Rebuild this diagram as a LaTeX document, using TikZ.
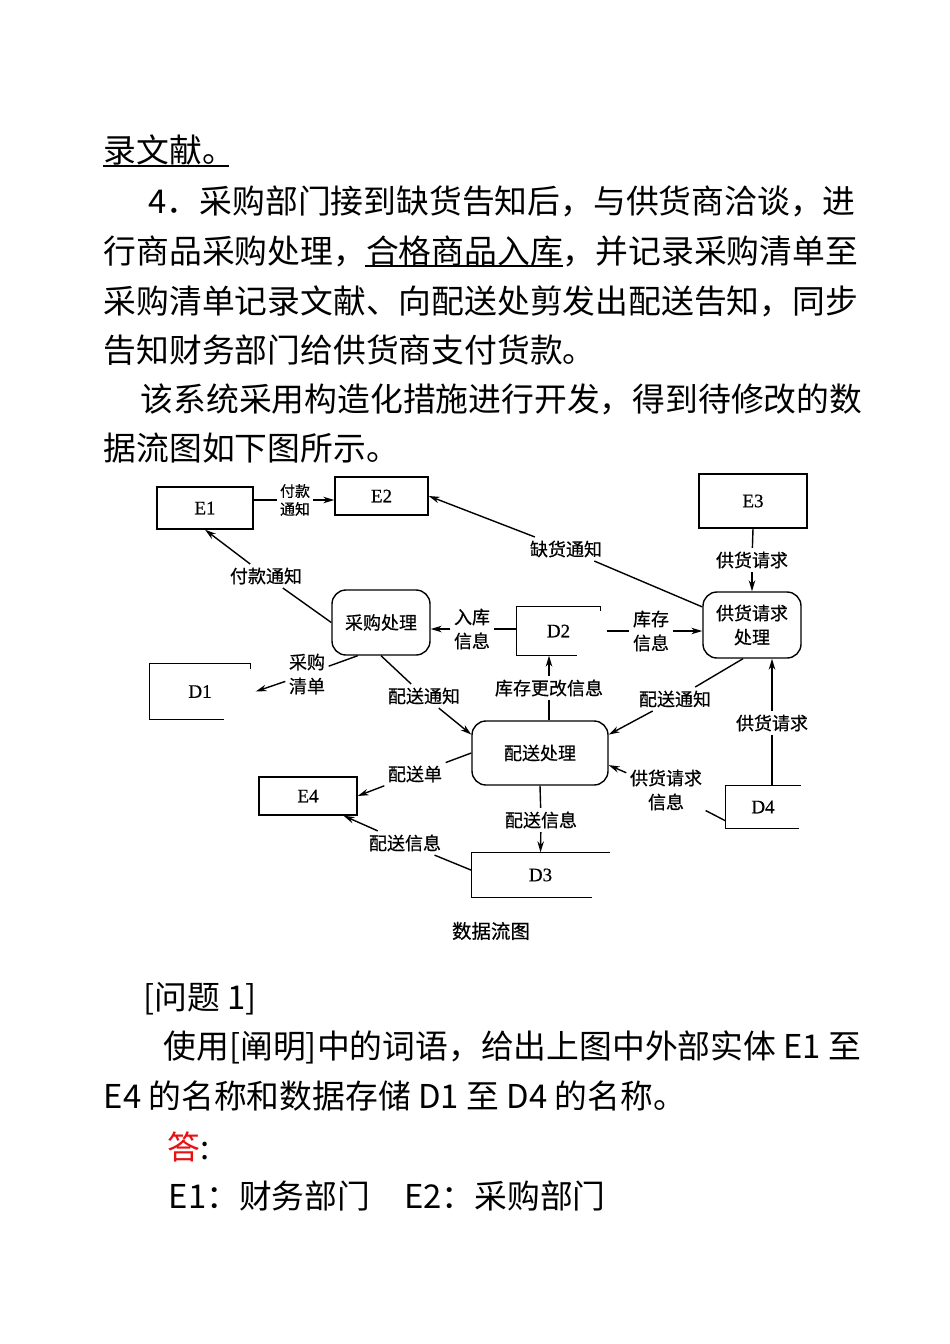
\documentclass[tikz,border=0pt]{standalone}
\usepackage{fontspec}
\setmainfont{Noto Sans CJK SC}
\newfontfamily\dfdserif[FakeBold=0.6]{Liberation Serif}
\newfontfamily\dfdlabel[FakeBold=0.5]{Noto Sans CJK SC}
\usetikzlibrary{arrows.meta, positioning}
\definecolor{answerred}{RGB}{232,16,16}
\tikzset{%
  >={Stealth[width=6.5pt, length=11pt]}, % narrow filled heads as in the scan
  % external entity, plain box
  entity/.style={rectangle, draw, inner sep=0pt, font=\dfdserif\fontsize{19}{22}\selectfont},
  % process, box with round corners
  proc/.style={rectangle, draw, rounded corners=14pt, align=center, inner sep=0pt, font=\dfdlabel\fontsize{18}{24}\selectfont},
  % data store: only the label, the open box is drawn below
  store/.style={rectangle, inner sep=0pt, font=\dfdserif\fontsize{19}{22}\selectfont},
  % label on a flow, the line stops at its border
  flow/.style={inner sep=3pt, align=center, font=\dfdlabel\fontsize{18}{24}\selectfont},
  flowsmall/.style={inner sep=2pt, align=center, font=\dfdlabel\fontsize{15}{18}\selectfont},
  % one printed line of the page
  para/.style={anchor=base west, inner sep=0pt, font=\fontsize{32.8}{40}\selectfont},
}

\begin{document}
\begin{tikzpicture}[x=1pt, y=-1pt, line width=1.4pt]
  \path[use as bounding box, fill=white] (0,0) rectangle (950,1344);

  % text above the diagram
  \node[para] (t1) at (103,162.5) {录文献。};
  \node[para] (t2) at (148,213.5) {4．采购部门接到缺货告知后，与供货商洽谈，进};
  \node[para] (t3) at (103,263.5) {行商品采购处理，合格商品入库，并记录采购清单至};
  \node[para] (t4) at (103,313.5) {采购清单记录文献、向配送处剪发出配送告知，同步};
  \node[para] (t5) at (103,362.5) {告知财务部门给供货商支付货款。};
  \node[para] (t6) at (140,411.5) {该系统采用构造化措施进行开发，得到待修改的数};
  \node[para] (t7) at (103,460.5) {据流图如下图所示。};
  \draw[line width=1.5pt] (103,166) -- (229,166);
  \draw[line width=1.5pt] (365,266) -- (563,266);

  % entities
  \node[entity, minimum width=96pt, minimum height=42pt] (e1) at (205,508) {E1};
  \node[entity, minimum width=93pt, minimum height=38pt] (e2) at (381.5,496) {E2};
  \node[entity, minimum width=108pt, minimum height=54pt] (e3) at (753,501) {E3};
  \node[entity, minimum width=98pt, minimum height=38pt] (e4) at (308,796) {E4};

  % processes
  \node[proc, minimum width=98pt, minimum height=65pt] (purchase) at (381,622.5) {采购处理};
  \node[proc, minimum width=98pt, minimum height=66pt] (supply) at (752,625) {供货请求\\处理};
  \node[proc, minimum width=136pt, minimum height=64pt] (deliver) at (540,753) {配送处理};

  % data stores
  \node[store, minimum width=100pt, minimum height=55pt] (d1) at (200,691.5) {D1};
  \node[store, minimum width=83pt, minimum height=48pt] (d2) at (558.5,631) {D2};
  \node[store, minimum width=137pt, minimum height=44pt] (d3) at (540.5,875) {D3};
  \node[store, minimum width=74pt, minimum height=42pt] (d4) at (763,807) {D4};
  \foreach \s/\len in {d1/75, d2/61, d3/121, d4/74}
    \draw (\s.north east) -- (\s.north west) -- (\s.south west) -- ++(\len,0);
  \draw (d1.north east) -- ++(0,6);
  \draw (d2.north east) -- ++(0,5);

  % flow labels
  \node[flowsmall] (fkA) at (295,500) {付款\\通知};
  \node[flow] (fkB) at (266,576) {付款通知};
  \node[flow] (qhC) at (566,549) {缺货通知};
  \node[flow] (rkD) at (472,629) {入库\\信息};
  \node[flow] (kcE) at (651,631) {库存\\信息};
  \node[flow] (cgF) at (307,674) {采购\\清单};
  \node[flow] (psG) at (424,696) {配送通知};
  \node[flow] (kgH) at (549,688) {库存更改信息};
  \node[flow] (psI) at (675,699) {配送通知};
  \node[flow] (ghJ) at (752,560) {供货请求};
  \node[flow] (ghK) at (772,723) {供货请求};
  \node[flow] (ghL) at (666,790) {供货请求\\信息};
  \node[flow] (psM) at (415,774) {配送单};
  \node[flow] (psN) at (541,820) {配送信息};
  \node[flow] (psO) at (405,843) {配送信息};
  \coordinate (d1in) at ([xshift=5pt]d1.east);
  \coordinate (d2out) at ([xshift=6pt]d2.east);

  % flows
  \draw (fkA.west -| e1.east) -- (fkA.west);
  \draw[->] (fkA.east) -- (fkA.east -| e2.west);
  \draw (purchase.west) -- (fkB);
  \draw[->] (fkB) -- (e1.south);
  \draw (supply.160) -- (qhC);
  \draw[->] (qhC) -- (e2.east);
  \draw (rkD.east -| d2.west) -- (rkD.east);
  \draw[->] (rkD.west) -- (rkD.west -| purchase.east);
  \draw (d2out |- kcE.west) -- (kcE.west);
  \draw[->] (kcE.east) -- (kcE.east -| supply.west);
  \draw (purchase.235) -- (cgF);
  \draw[->] (cgF) -- (d1in);
  \draw (purchase.south) -- (psG);
  \draw[->] (psG) -- (deliver.165);
  \draw (kgH |- deliver.north) -- (kgH);
  \draw[->] (kgH) -- (kgH |- d2.south);
  \draw (supply.255) -- (psI);
  \draw[->] (psI) -- (deliver.15);
  \draw (e3.south) -- (ghJ);
  \draw[->] (ghJ) -- (supply.north);
  \draw (ghK |- d4.north) -- (ghK);
  \draw[->] (ghK) -- (ghK |- supply.south);
  \draw (d4.200) -- (ghL);
  \draw[->] (ghL) -- (deliver.350);
  \draw (deliver.west) -- (psM);
  \draw[->] (psM) -- (e4.east);
  \draw (deliver.south) -- (psN);
  \draw[->] (psN) -- (d3.north);
  \draw (d3.176) -- (psO);
  \draw[->] (psO) -- (e4.-29);

  \node[font=\dfdlabel\fontsize{19.5}{22}\selectfont] (cap) at (491,931) {数据流图};

  % text below the diagram
  \node[para] (t8) at (143,1009.5) {[问题 1]};
  \node[para] (t9) at (163,1058.5) {使用[阐明]中的词语，给出上图中外部实体 E1 至};
  \node[para] (t10) at (103,1108.5) {E4 的名称和数据存储 D1 至 D4 的名称。};
  \node[para] (t11) at (167,1159.5) {{\color{answerred}答}:};
  \node[para] (t12) at (168,1208.5) {E1：财务部门\hspace{34pt}E2：采购部门};
\end{tikzpicture}
\end{document}
